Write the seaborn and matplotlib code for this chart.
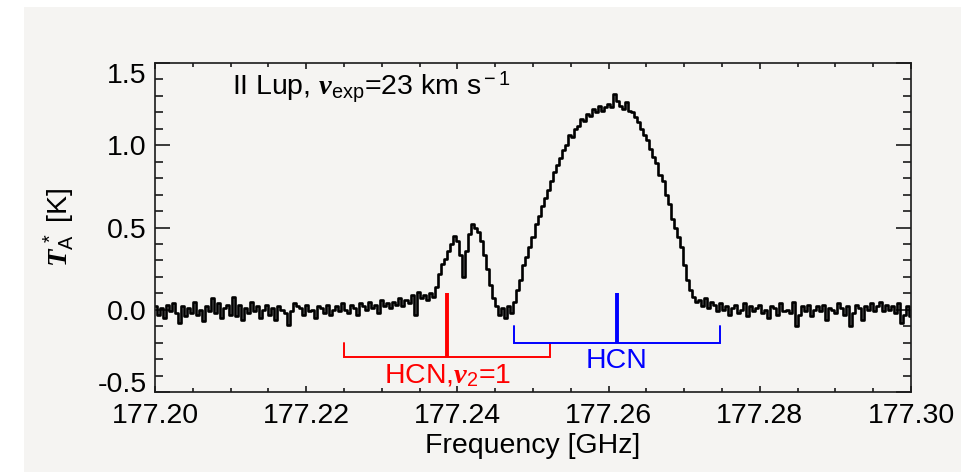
import numpy as np
import pandas as pd
import matplotlib
matplotlib.use("Agg")
import matplotlib.pyplot as plt
from matplotlib.patches import Rectangle
from matplotlib.ticker import MultipleLocator, FormatStrFormatter
import seaborn as sns

# ---- spectrum: first channel frequency, channel width (GHz), antenna temperature per channel (K)
freq_start = 177.2000
chan_width = 0.0004
ta_values = [
    0.02, -0.03, 0.01, -0.05, 0.03, -0.01, 0.04, -0.02, -0.08, 0.02,
    -0.04, 0.01, -0.02, 0.05, -0.03, 0.00, -0.07, 0.02, -0.01, 0.07,
    -0.02, 0.04, -0.05, 0.01, 0.03, -0.03, 0.08, -0.04, 0.03, -0.06,
    0.01, -0.02, 0.05, -0.01, 0.02, -0.05, 0.00, 0.03, -0.03, 0.01,
    -0.06, 0.02, 0.00, -0.02, -0.09, -0.01, 0.04, 0.02, 0.01, -0.03,
    0.03, -0.01, 0.00, -0.05, 0.02, 0.01, -0.02, 0.03, -0.03, 0.00,
    0.02, -0.01, 0.04, 0.00, -0.02, 0.03, 0.01, -0.03, 0.04, 0.02,
    0.00, 0.05, 0.01, 0.03, -0.02, 0.06, 0.02, 0.04, 0.01, 0.05,
    0.03, 0.07, 0.02, 0.06, 0.04, 0.09, -0.03, 0.11, 0.07, 0.09,
    0.06, 0.10, 0.08, 0.14, 0.22, 0.28, 0.31, 0.36, 0.40, 0.45,
    0.42, 0.33, 0.20, 0.36, 0.46, 0.52, 0.50, 0.47, 0.42, 0.33,
    0.25, 0.15, 0.07, 0.02, -0.03, 0.01, -0.05, 0.02, -0.02, 0.05,
    0.12, 0.18, 0.27, 0.32, 0.38, 0.44, 0.52, 0.57, 0.63, 0.68,
    0.73, 0.78, 0.84, 0.88, 0.92, 0.97, 1.00, 1.06, 1.05, 1.10,
    1.12, 1.16, 1.15, 1.19, 1.18, 1.22, 1.20, 1.24, 1.21, 1.23,
    1.25, 1.23, 1.31, 1.27, 1.24, 1.22, 1.26, 1.21, 1.20, 1.17,
    1.14, 1.10, 1.06, 1.03, 0.98, 0.93, 0.89, 0.82, 0.78, 0.70,
    0.64, 0.55, 0.50, 0.44, 0.38, 0.27, 0.18, 0.12, 0.08, 0.05,
    0.06, 0.02, 0.07, 0.01, 0.05, 0.03, -0.01, 0.04, 0.00, 0.02,
    -0.03, 0.01, 0.03, -0.02, 0.00, 0.04, -0.04, 0.02, -0.01, 0.01,
    0.03, -0.02, 0.00, -0.05, 0.02, 0.01, -0.03, 0.04, -0.01, 0.00,
    -0.02, 0.05, -0.10, -0.03, 0.02, -0.01, 0.03, -0.04, 0.00, 0.02,
    -0.01, 0.03, -0.06, 0.01, 0.00, -0.02, 0.04, 0.01, -0.03, 0.02,
    -0.10, -0.02, 0.03, 0.01, -0.06, 0.02, 0.00, 0.04, -0.01, 0.02,
    0.05, -0.01, 0.03, 0.00, 0.02, -0.02, 0.04, -0.08, -0.03, 0.02,
    -0.04,
]

# ---- line identifications
line_labels = ["HCN,$\\mathit{v}_2$=1", "HCN"]
line_freqs = [177.238656, 177.261111]   # GHz
line_colors = ["#ff0000", "#0000ff"]
v_exp = 23.0                            # km/s
c_kms = 299792.458

source_text = "II Lup, $\\mathit{v}_{\\rm exp}$=23 km s$^{\\rm -1}$"
x_label = "Frequency [GHz]"
y_label = "$\\mathit{T}_{\\rm A}^{\\,*}$ [K]"
x_ticks = [177.20, 177.22, 177.24, 177.26, 177.28, 177.30]
y_ticks = [-0.5, 0.0, 0.5, 1.0, 1.5]

# ---- style
sns.set_style("ticks")
bg = "#f5f4f2"
plt.rcParams.update({
    "font.family": ["Liberation Sans", "DejaVu Sans"],
    "mathtext.fontset": "custom",
    "mathtext.rm": "Liberation Sans",
    "mathtext.it": "Liberation Serif:italic:bold",
    "mathtext.bf": "Liberation Serif:bold",
    "axes.unicode_minus": False,
    "text.color": "black",
    "axes.labelcolor": "black",
    "axes.edgecolor": "#1a1a1a",
    "axes.linewidth": 1.2,
    "xtick.color": "#1a1a1a",
    "ytick.color": "#1a1a1a",
    "xtick.labelcolor": "black",
    "ytick.labelcolor": "black",
})

fig = plt.figure(figsize=(9.61, 4.72), dpi=100, facecolor="white")
fig.patches.append(Rectangle((24 / 961, 0), 1 - 24 / 961, (472 - 7) / 472,
                             transform=fig.transFigure, facecolor=bg,
                             edgecolor="none", zorder=-10))
ax = fig.add_axes([155 / 961, 1 - 392 / 472, 756 / 961, 329 / 472])
ax.set_facecolor(bg)

freqs = freq_start + chan_width * np.arange(len(ta_values))
spec = pd.DataFrame({"freq": freqs, "ta": ta_values})
sns.lineplot(data=spec, x="freq", y="ta", ax=ax, color="black",
             linewidth=1.9, drawstyle="steps-mid", estimator=None, sort=False)

# line markers with brackets spanning +/- v_exp
bracket_base = [-0.29, -0.20]
bracket_top = [-0.20, -0.10]
bar_top = 0.10
label_y = [-0.445, -0.353]
for name, f0, col, yb, yt, ly in zip(line_labels, line_freqs, line_colors,
                                     bracket_base, bracket_top, label_y):
    dv = f0 * v_exp / c_kms
    ax.plot([f0 - dv, f0 - dv, f0 + dv, f0 + dv], [yt, yb, yb, yt],
            color=col, linewidth=1.4, solid_joinstyle="miter")
    ax.plot([f0, f0], [yb, bar_top], color=col, linewidth=2.8,
            solid_capstyle="butt")
    ax.text(f0, ly, name, color=col, fontsize=20.5, ha="center",
            va="baseline")

ax.text(177.2102, 1.307, source_text, fontsize=20.5, ha="left",
        va="baseline")

ax.set_xlim(177.20, 177.30)
ax.set_ylim(-0.5, 1.5)
ax.set_xticks(x_ticks)
ax.set_yticks(y_ticks)
ax.xaxis.set_major_formatter(FormatStrFormatter("%.2f"))
ax.yaxis.set_major_formatter(FormatStrFormatter("%.1f"))
ax.xaxis.set_minor_locator(MultipleLocator(0.005))
ax.yaxis.set_minor_locator(MultipleLocator(0.1))
ax.tick_params(axis="x", which="major", direction="in", top=True, bottom=True,
               length=4.5, width=1.2, labelsize=20.5, pad=8)
ax.tick_params(axis="x", which="minor", direction="in", top=True, bottom=True,
               length=2.6, width=1.2)
ax.tick_params(axis="y", which="major", direction="in", left=True, right=True,
               length=10.8, width=1.2, labelsize=20.5, pad=6)
ax.tick_params(axis="y", which="minor", direction="in", left=True, right=True,
               length=5.5, width=1.2)
for lab in ax.get_yticklabels():
    if lab.get_text() == "1.5":
        lab.set_va("top")
    elif lab.get_text() == "-0.5":
        lab.set_va("baseline")

ax.set_xlabel(x_label, fontsize=20.5)
ax.set_ylabel(y_label, fontsize=20.5)
ax.xaxis.set_label_coords(0.5, -0.125)
ax.yaxis.set_label_coords(-0.103, 0.5)
for s in ax.spines.values():
    s.set_visible(True)

fig.savefig("out.png", dpi=100, facecolor="white")
